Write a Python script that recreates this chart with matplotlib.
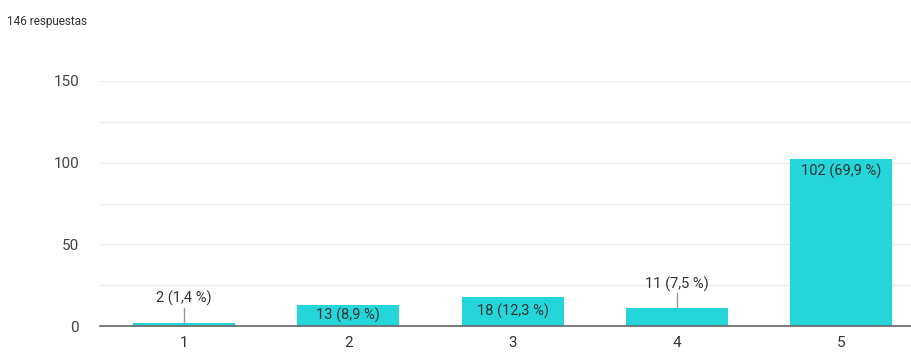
import matplotlib.pyplot as plt

# Respuestas por valor de la escala
categories = ["1", "2", "3", "4", "5"]
counts = [2, 13, 18, 11, 102]
percents = ["1,4", "8,9", "12,3", "7,5", "69,9"]
total_label = "146 respuestas"
y_ticks = [0, 50, 100, 150]

bar_color = "#24d6da"
text_color = "#333333"

plt.rcParams["font.family"] = ["Roboto", "DejaVu Sans"]

fig = plt.figure(figsize=(9.12, 3.54), dpi=100)
ax = fig.add_axes([100 / 912, 28 / 354, 812 / 912, 245 / 354])

x = list(range(len(categories)))
ax.bar(x, counts, width=0.62, color=bar_color, zorder=3)

ax.set_xlim(-0.51, 4.43)
ax.set_ylim(0, 150)

# light grid every 25, labels every 50
ax.set_yticks(y_ticks)
ax.set_yticks([25, 75, 125], minor=True)
ax.grid(axis="y", which="both", color="#ececec", linewidth=1, zorder=0)
ax.tick_params(axis="y", which="both", length=0, pad=15,
               labelsize=11, labelcolor="#444444")
ax.set_xticks(x)
ax.set_xticklabels(categories)
ax.tick_params(axis="x", length=0, pad=7, labelsize=11, labelcolor="#333333")

for side in ["top", "right", "left"]:
    ax.spines[side].set_visible(False)
ax.spines["bottom"].set_color("#666666")
ax.spines["bottom"].set_linewidth(1.2)
ax.spines["bottom"].set_zorder(4)

# value labels: inside tall enough bars, above short ones with a leader line
for xi, c, p in zip(x, counts, percents):
    label = f"{c} ({p} %)"
    if c >= 50:
        ax.text(xi, c - 2.5, label, ha="center", va="top", fontsize=10.5,
                color=text_color, zorder=5)
    elif c >= 12:
        ax.text(xi, c / 2, label, ha="center", va="center", fontsize=10.5,
                color=text_color, zorder=5)
    else:
        ax.plot([xi, xi], [c, c + 9], color="#999999", linewidth=1, zorder=4)
        ax.text(xi, c + 10, label, ha="center", va="bottom", fontsize=10.5,
                color=text_color, zorder=5)

fig.text(7 / 912, 1 - 22 / 354, total_label, ha="left", va="center",
         fontsize=8.5, color="#333333")

fig.savefig("out.png", dpi=100)
